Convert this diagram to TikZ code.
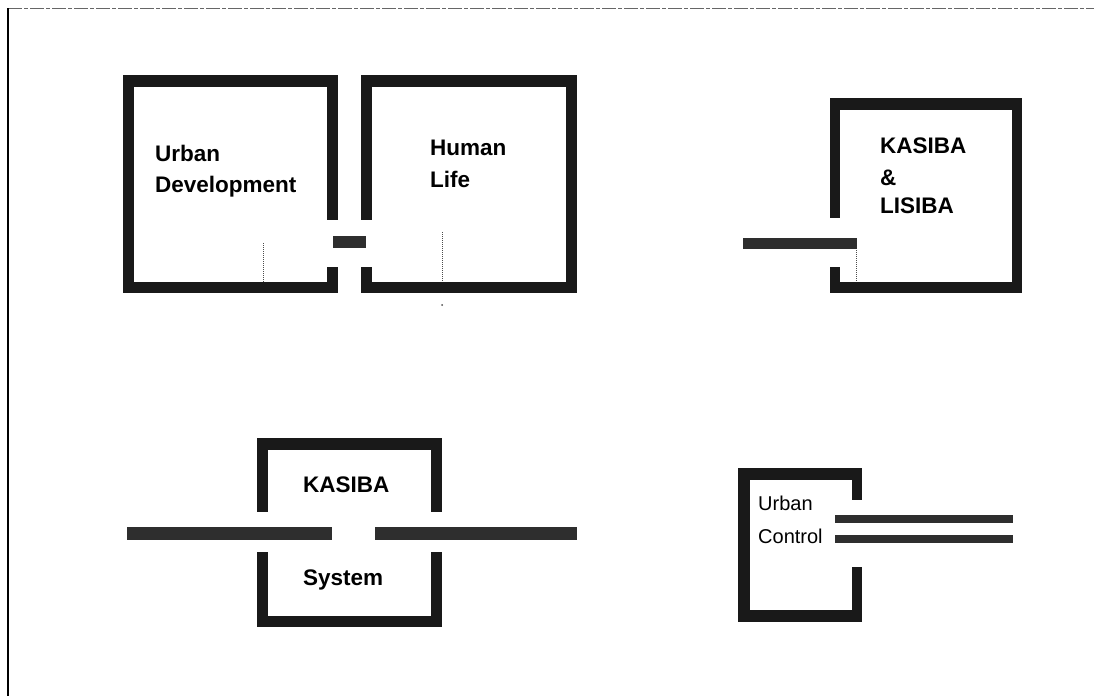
\documentclass[tikz,border=0pt]{standalone}
\usepackage{fontspec}
\setmainfont{Liberation Sans}
\usepackage{tikz}
\usetikzlibrary{positioning}

\tikzset{
  wall/.style={fill=black!90},
  bar/.style={fill=black!82},
  lbl/.style={anchor=base west, inner sep=0pt, font=\fontsize{22.5}{26}\selectfont\bfseries},
  lblthin/.style={anchor=base west, inner sep=0pt, font=\fontsize{20}{24}\selectfont},
  seam/.style={densely dotted, line width=1pt, black!70}
}

\begin{document}
\begin{tikzpicture}[x=1pt, y=-1pt]

\useasboundingbox (0,0) rectangle (1094,696);

% --- Page frame ---
\draw[black!60, line width=0.8pt, dash pattern=on 14pt off 2pt on 4pt off 2pt] (8,8) -- (1094,8);
\draw[black, line width=1.8pt] (8,8) -- (8,696);

% --- Dotted seams ---
\draw[seam] (263,243) -- (263,282);
\draw[seam] (442,232) -- (442,293);
\fill[black!70] (442,305) circle (1pt);
\draw[seam] (856,248) -- (856,285);

% --- Urban Development / Human Life ---
\foreach \xa/\ya/\xb/\yb in {
    123/75/338/87, 123/282/338/293, 123/75/134/293,
    327/75/338/220, 327/267/338/293,
    361/75/577/87, 361/282/577/293, 566/75/577/293,
    361/75/372/220, 361/267/372/293
} {
    \fill[wall] (\xa,\ya) rectangle (\xb,\yb);
}
\fill[bar] (333,236) rectangle (366,248);

\node[lbl] (udA) at (155,161) {Urban};
\node[lbl] (udB) at (155,192) {Development};
\node[lbl] (hlA) at (430,155) {Human};
\node[lbl] (hlB) at (430,187) {Life};

% --- KASIBA & LISIBA ---
\foreach \xa/\ya/\xb/\yb in {
    830/98/1022/110, 830/282/1022/293, 1012/98/1022/293,
    830/98/840/218, 830/267/840/293
} {
    \fill[wall] (\xa,\ya) rectangle (\xb,\yb);
}
\fill[bar] (743,238) rectangle (857,249);

\node[lbl] (klA) at (880,153) {KASIBA};
\node[lbl] (klB) at (880,185) {\&};
\node[lbl] (klC) at (880,213) {LISIBA};

% --- KASIBA System ---
\foreach \xa/\ya/\xb/\yb in {
    257/438/442/450, 257/616/442/627,
    257/438/268/512, 257/552/268/627,
    431/438/442/512, 431/552/442/627
} {
    \fill[wall] (\xa,\ya) rectangle (\xb,\yb);
}
\fill[bar] (127,527) rectangle (332,540);
\fill[bar] (375,527) rectangle (577,540);

\node[lbl] (ksA) at (303,492) {KASIBA};
\node[lbl] (ksB) at (303,585) {System};

% --- Urban Control ---
\foreach \xa/\ya/\xb/\yb in {
    738/468/862/480, 738/610/862/622, 738/468/750/622,
    852/468/862/500, 852/567/862/622
} {
    \fill[wall] (\xa,\ya) rectangle (\xb,\yb);
}
\fill[bar] (835,515) rectangle (1013,523);
\fill[bar] (835,535) rectangle (1013,543);

\node[lblthin] (ucA) at (758,510) {Urban};
\node[lblthin] (ucB) at (758,543) {Control};

\end{tikzpicture}
\end{document}
